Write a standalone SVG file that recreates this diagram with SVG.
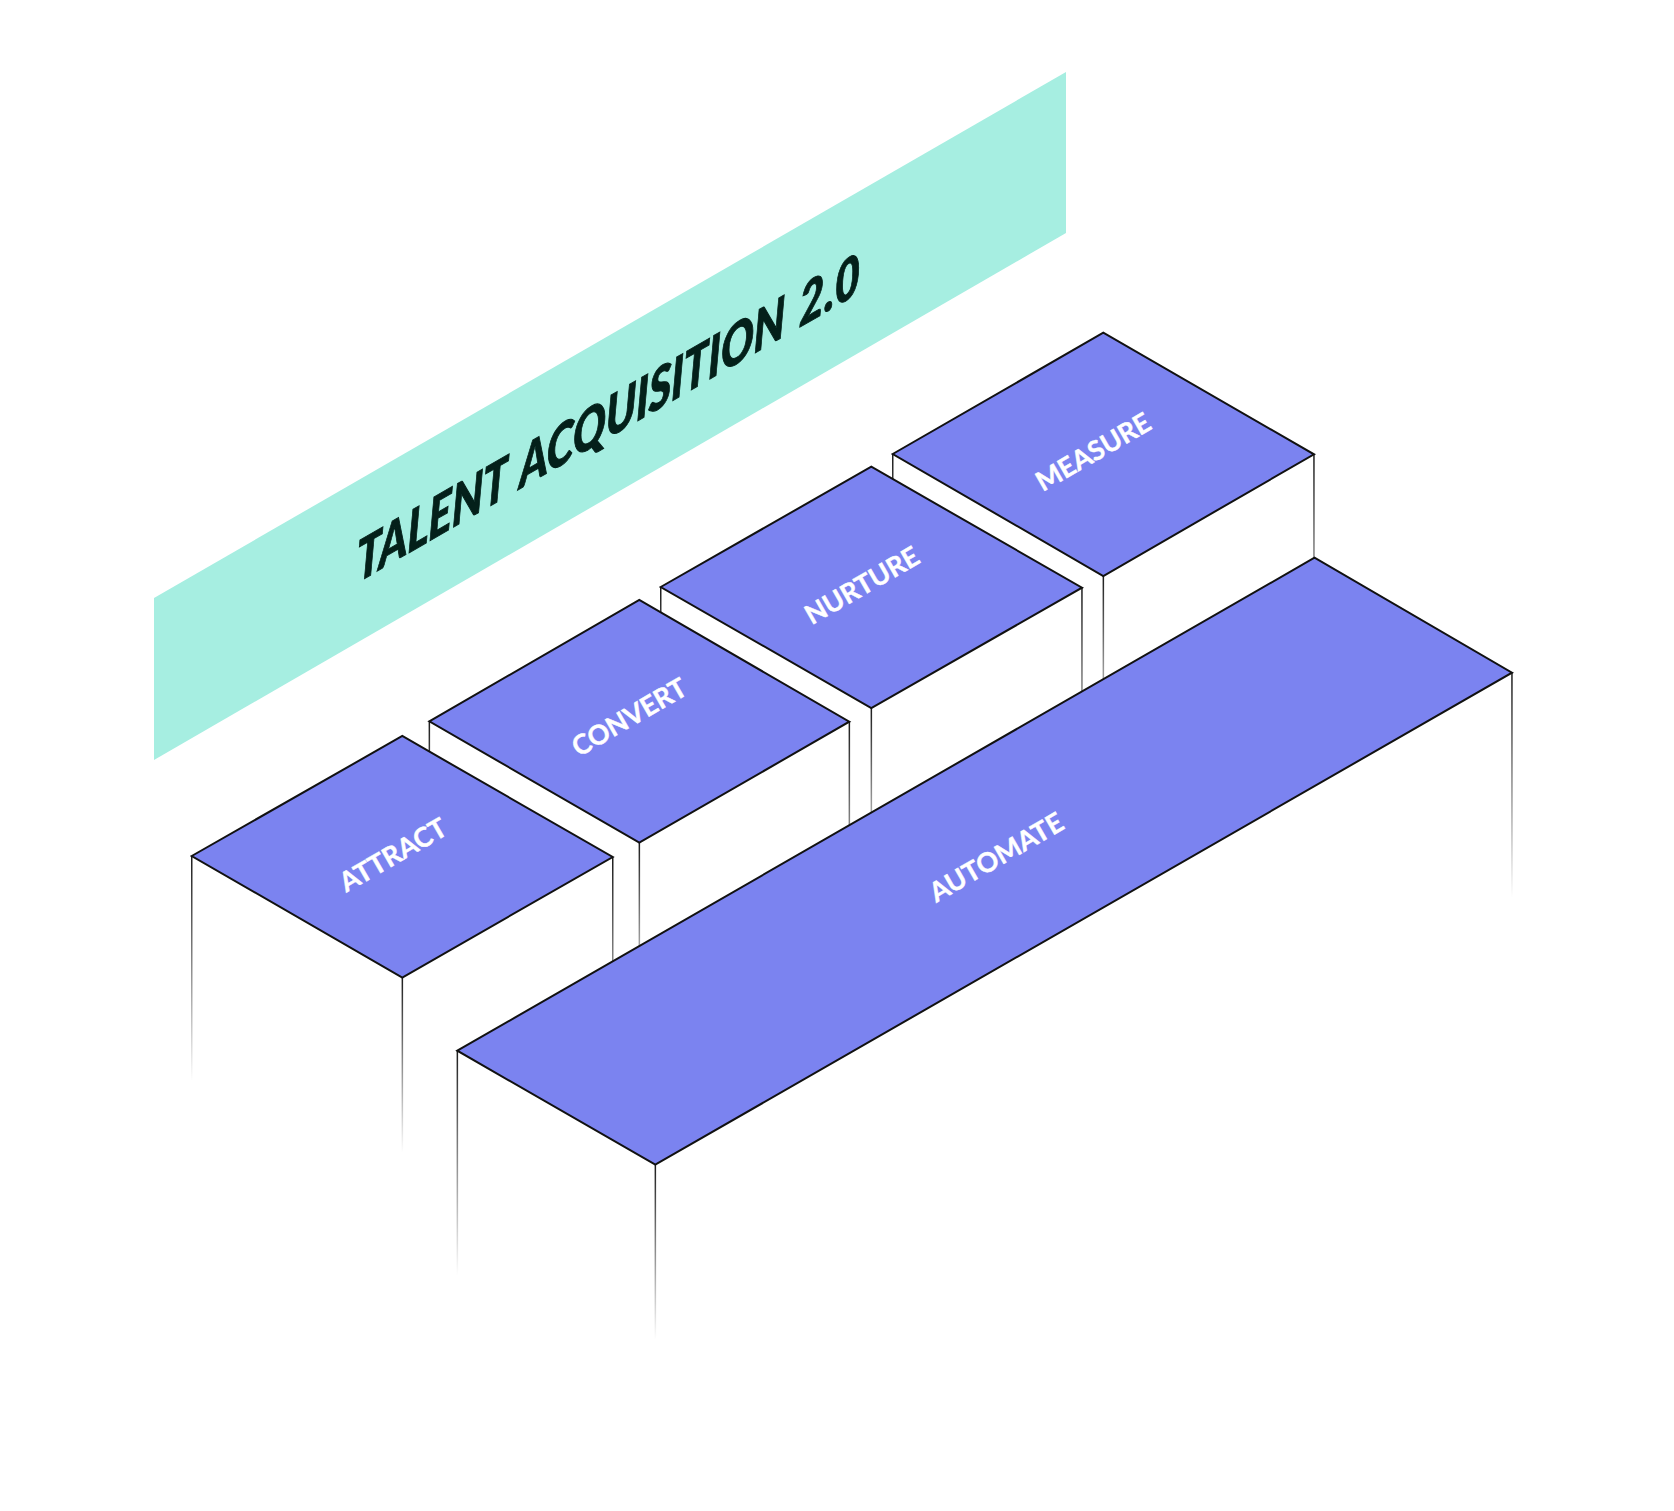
<svg xmlns="http://www.w3.org/2000/svg" width="1674" height="1511" viewBox="0 0 1674 1511">
  <defs>
    <linearGradient id="fade" x1="0" y1="0" x2="0" y2="1">
      <stop offset="0" stop-color="#111" stop-opacity="0.95"/>
      <stop offset="1" stop-color="#111" stop-opacity="0"/>
    </linearGradient>
  </defs>
  <style>
    .face { fill: #ffffff; stroke: none; }
    .top { fill: #7b83f0; stroke: #111; stroke-width: 2; stroke-linejoin: miter; }
    .edge { fill: url(#fade); }
    .lbl { font-family: Lato, "Open Sans", "Liberation Sans", sans-serif; font-weight: 700; font-size: 27px; fill: #ffffff; stroke: #ffffff; stroke-width: 0.4; text-anchor: middle; }
    .title { font-family: Lato, "Liberation Sans", sans-serif; font-weight: 900; font-style: italic; font-size: 57px; fill: #04201a; stroke: #04201a; stroke-width: 1; text-anchor: middle; word-spacing: 6px; }
  </style>
  <rect width="1674" height="1511" fill="#ffffff"/>

  <g id="banner">
    <polygon points="154,598 1066,72 1066,233 154,760" fill="#a6eee1"/>
    <text class="title" transform="translate(608.5,437.7) skewY(-30)" x="0" y="0" textLength="503" lengthAdjust="spacingAndGlyphs">TALENT ACQUISITION 2.0</text>
  </g>

  <g id="measure">
    <polygon class="face" points="892.7,454 1103.3,576 1103.3,1276 892.7,1154"/>
    <polygon class="face" points="1103.3,576 1314,454.3 1314,1154 1103.3,1276"/>
    <rect class="edge" x="892" y="454" width="1.5" height="225"/>
    <rect class="edge" x="1102.6" y="576" width="1.5" height="175"/>
    <rect class="edge" x="1313.2" y="454.3" width="1.5" height="225"/>
    <polygon class="top" points="892.7,454 1103.3,332.7 1314,454.3 1103.3,576"/>
    <text class="lbl" transform="translate(1093,451.5) rotate(-30)" x="0" y="10">MEASURE</text>
  </g>

  <g id="nurture">
    <polygon class="face" points="660.7,587 871.3,708 871.3,1408 660.7,1287"/>
    <polygon class="face" points="871.3,708 1082,587.7 1082,1287 871.3,1408"/>
    <rect class="edge" x="660" y="587" width="1.5" height="225"/>
    <rect class="edge" x="870.6" y="708" width="1.5" height="175"/>
    <rect class="edge" x="1081.2" y="587.7" width="1.5" height="225"/>
    <polygon class="top" points="660.7,587 871.3,466.7 1082,587.7 871.3,708"/>
    <text class="lbl" transform="translate(861.7,585) rotate(-30)" x="0" y="10">NURTURE</text>
  </g>

  <g id="convert">
    <polygon class="face" points="429.3,721.3 639.3,842.7 639.3,1542 429.3,1421"/>
    <polygon class="face" points="639.3,842.7 849.3,721.7 849.3,1421 639.3,1542"/>
    <rect class="edge" x="428.6" y="721.3" width="1.5" height="225"/>
    <rect class="edge" x="638.6" y="842.7" width="1.5" height="175"/>
    <rect class="edge" x="848.6" y="721.7" width="1.5" height="225"/>
    <polygon class="top" points="429.3,721.3 639.3,600 849.3,721.7 639.3,842.7"/>
    <text class="lbl" transform="translate(629,716.7) rotate(-30)" x="0" y="10">CONVERT</text>
  </g>

  <g id="attract">
    <polygon class="face" points="191.7,856 402.3,977.5 402.3,1600 191.7,1556"/>
    <polygon class="face" points="402.3,977.5 612.7,857 612.7,1556 402.3,1600"/>
    <rect class="edge" x="191" y="856" width="1.5" height="225"/>
    <rect class="edge" x="401.6" y="977.5" width="1.5" height="175"/>
    <rect class="edge" x="612" y="857" width="1.5" height="225"/>
    <polygon class="top" points="191.7,856 402.3,736 612.7,857 402.3,977.5"/>
    <text class="lbl" transform="translate(392.8,854.5) rotate(-30)" x="0" y="10">ATTRACT</text>
  </g>

  <g id="automate">
    <polygon class="face" points="457.3,1050.7 655.3,1164.7 655.3,1700 457.3,1700"/>
    <polygon class="face" points="655.3,1164.7 1512,672.7 1512,1700 655.3,1700"/>
    <rect class="edge" x="456.6" y="1050.7" width="1.5" height="225"/>
    <rect class="edge" x="654.6" y="1164.7" width="1.5" height="175"/>
    <rect class="edge" x="1511.2" y="672.7" width="1.5" height="225"/>
    <polygon class="top" points="457.3,1050.7 1314.5,557.7 1512,672.7 655.3,1164.7"/>
    <text class="lbl" transform="translate(996,856.8) rotate(-30)" x="0" y="10">AUTOMATE</text>
  </g>

  <g id="connectors"></g>
</svg>
